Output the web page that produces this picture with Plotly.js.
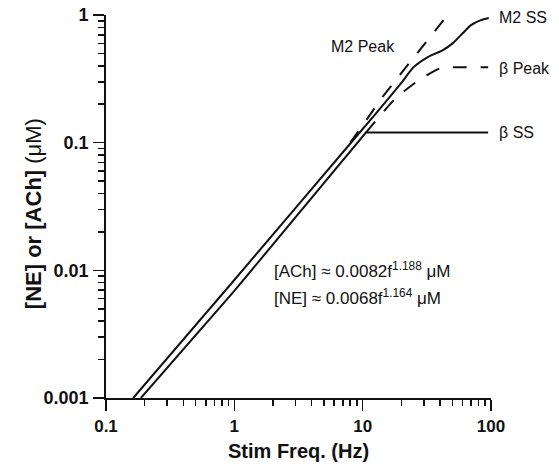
<!DOCTYPE html>
<html>
<head>
<meta charset="utf-8">
<script src="https://cdn.plot.ly/plotly-3.0.1.min.js"></script>
<style>
html,body{margin:0;padding:0;background:#fff;}
#chart{width:559px;height:467px;}
</style>
</head>
<body>
<div id="chart"></div>
<script>
// ACh (M2) solid: steady-state
const achSS_f = [0.163, 1, 10, 13.8, 19.8, 25.0, 32.2, 42.2, 50.5, 60.4, 69.8, 83.5, 96];
const achSS_y = [0.001, 0.0084, 0.128, 0.187, 0.29, 0.391, 0.468, 0.531, 0.602, 0.722, 0.833, 0.912, 0.946];
// ACh (M2) dashed: peak
const achPk_f = [8, 14.3, 20.2, 28.4, 46];
const achPk_y = [0.1, 0.228, 0.355, 0.55, 1.0];
// NE (beta) solid: steady-state
const neSS_f = [0.187, 1, 10.6, 95];
const neSS_y = [0.001, 0.0069, 0.12, 0.12];
// NE (beta) dashed: peak
const nePk_f = [10.6, 17.8, 27.4, 40.6, 60, 95];
const nePk_y = [0.12, 0.219, 0.309, 0.384, 0.39, 0.39];

const yTickVals = [0.001, 0.01, 0.1, 1];
const yTickText = ['0.001', '0.01', '0.1', '1'];
const xTickVals = [0.1, 1, 10, 100];
const xTickText = ['0.1', '1', '10', '100'];

function minorVals(decades){
  const out=[];
  decades.forEach(d=>{for(let k=2;k<=9;k++) out.push(k*d);});
  return out;
}
const xMinor = minorVals([0.1, 1, 10]);
const yMinor = minorVals([0.001, 0.01, 0.1]);

const FONT = '"Liberation Sans", Arial, sans-serif';
const lineStyle = (dash)=>({color:'#111', width:2, dash:dash});

const traces = [
  {x:achSS_f, y:achSS_y, mode:'lines', line:Object.assign(lineStyle('solid'),{shape:'spline', smoothing:0.6}), hoverinfo:'skip'},
  {x:achPk_f, y:achPk_y, mode:'lines', line:lineStyle('14px,14px'), hoverinfo:'skip'},
  {x:neSS_f, y:neSS_y, mode:'lines', line:lineStyle('solid'), hoverinfo:'skip'},
  {x:nePk_f, y:nePk_y, mode:'lines', line:Object.assign(lineStyle('14px,14px'),{shape:'spline', smoothing:0.6}), hoverinfo:'skip'}
];

const L = Math.log10;
const base = {showarrow:false, font:{family:FONT, size:16, color:'#111'}};
const annData = (x,y,text,xanchor,size)=>Object.assign({}, base, {x:L(x), y:L(y), xref:'x', yref:'y', text:text,
  xanchor:xanchor, yanchor:'middle', font:{family:FONT, size:size||16, color:'#111'}});
const annRight = (y,text)=>Object.assign({}, base, {x:1.016, y:L(y), xref:'paper', yref:'y', text:text,
  xanchor:'left', yanchor:'middle'});

const layout = {
  width:559, height:467,
  margin:{l:106, r:68, t:15, b:69},
  paper_bgcolor:'#fff', plot_bgcolor:'#fff',
  showlegend:false,
  font:{family:FONT, color:'#111'},
  xaxis:{type:'log', range:[-1,2], tickvals:xTickVals, ticktext:xTickText,
    ticks:'outside', ticklen:11, tickwidth:1.5, tickcolor:'#111',
    minor:{tickvals:xMinor, ticks:'outside', ticklen:6, tickwidth:1.5, tickcolor:'#111', showgrid:false},
    showline:true, linecolor:'#111', linewidth:1.8, showgrid:false, zeroline:false,
    tickfont:{family:FONT, size:17, color:'#111', weight:'bold'},
    ticklabelstandoff:1},
  yaxis:{type:'log', range:[-3,0], tickvals:yTickVals, ticktext:yTickText,
    ticks:'outside', ticklen:11, tickwidth:1.5, tickcolor:'#111',
    minor:{tickvals:yMinor, ticks:'outside', ticklen:6, tickwidth:1.5, tickcolor:'#111', showgrid:false},
    showline:true, linecolor:'#111', linewidth:1.8, showgrid:false, zeroline:false,
    tickfont:{family:FONT, size:18, color:'#111', weight:'bold'},
    ticklabelstandoff:1},
  annotations:[
    annRight(Math.pow(10,-0.016), 'M2 SS'),
    annRight(Math.pow(10,-0.416), 'β Peak'),
    annRight(Math.pow(10,-0.917), 'β SS'),
    annData(Math.pow(10,1.266), Math.pow(10,-0.244), 'M2 Peak', 'right'),
    annData(Math.pow(10,0.297), Math.pow(10,-1.998), '[ACh] ≈ 0.0082f<sup>1.188</sup> μM', 'left', 17),
    annData(Math.pow(10,0.297), Math.pow(10,-2.209), '[NE] ≈ 0.0068f<sup>1.164</sup> μM', 'left', 17),
    Object.assign({}, base, {x:0.5, y:-0.139, xref:'paper', yref:'paper', xanchor:'center', yanchor:'middle',
      text:'<b>Stim Freq. (Hz)</b>', font:{family:FONT, size:20, color:'#111'}}),
    Object.assign({}, base, {x:-0.1896, y:0.48, xref:'paper', yref:'paper', xanchor:'center', yanchor:'middle',
      textangle:-90, text:'<b>[NE] or [ACh] </b>(μM)', font:{family:FONT, size:22, color:'#111'}})
  ]
};

Plotly.newPlot('chart', traces, layout, {staticPlot:true, displayModeBar:false});
</script>
</body>
</html>
